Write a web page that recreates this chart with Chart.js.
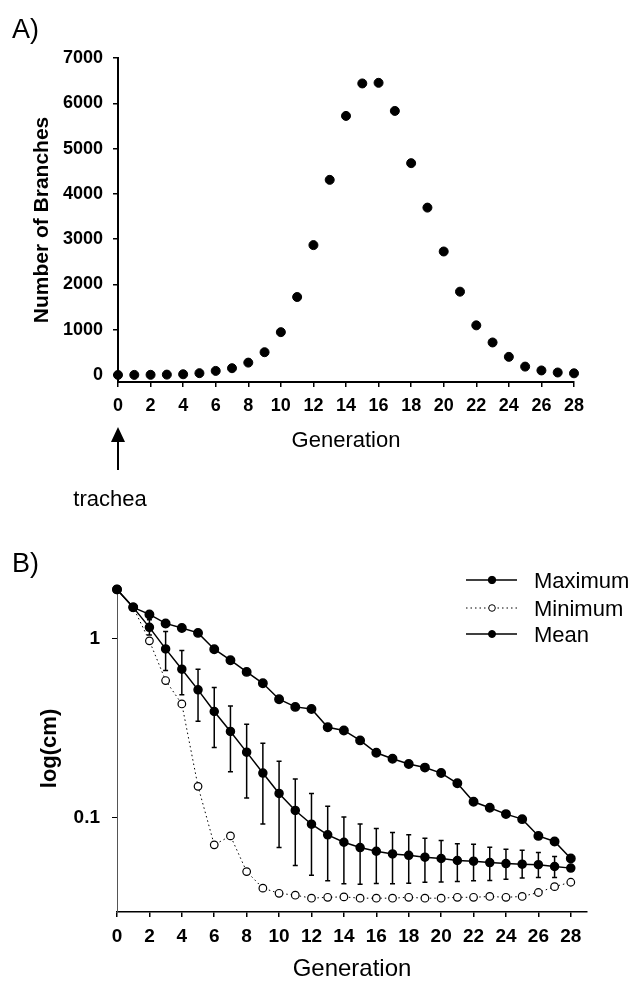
<!DOCTYPE html>
<html lang="en">
<head>
<meta charset="UTF-8">
<title>Airway branches per generation</title>
<style>
    body {
        margin: 0;
        background: #fff;
        font-family: "Liberation Sans", Arial, sans-serif;
    }
    .panel {
        position: absolute;
        left: 0;
        width: 636px;
    }
    #panelA { top: 0; height: 520px; }
    #panelB { top: 520px; height: 464px; }
</style>
</head>
<body>
<div class="panel" id="panelA"><canvas id="chartA"></canvas></div>
<div class="panel" id="panelB"><canvas id="chartB"></canvas></div>

<script src="https://cdn.jsdelivr.net/npm/chart.js@4"></script>
<script>
    // generations 0 (trachea) .. 28
    const generations = [0, 1, 2, 3, 4, 5, 6, 7, 8, 9, 10, 11, 12, 13, 14, 15, 16, 17, 18, 19, 20, 21, 22, 23, 24, 25, 26, 27, 28];
    const xTickValues = [0, 2, 4, 6, 8, 10, 12, 14, 16, 18, 20, 22, 24, 26, 28];

    // panel A
    const branchCounts = [1, 2, 4, 8, 16, 40, 90, 150, 273, 503, 946, 1722, 2868, 4309, 5721, 6438, 6452, 5831, 4678, 3696, 2727, 1840, 1096, 718, 400, 185, 100, 55, 37];
    const yTickValuesA = [0, 1000, 2000, 3000, 4000, 5000, 6000, 7000];

    // panel B (cm)
    const maxLength = [1.89, 1.50, 1.37, 1.22, 1.15, 1.08, 0.876, 0.760, 0.654, 0.565, 0.460, 0.417, 0.406, 0.321, 0.308, 0.271, 0.231, 0.214, 0.200, 0.191, 0.178, 0.156, 0.123, 0.114, 0.105, 0.0984, 0.0793, 0.0738, 0.0593];
    const minLength = [1.89, 1.50, 0.975, 0.585, 0.433, 0.150, 0.0707, 0.0793, 0.0501, 0.0405, 0.0379, 0.0370, 0.0356, 0.0360, 0.0362, 0.0356, 0.0356, 0.0356, 0.0360, 0.0356, 0.0356, 0.0360, 0.0360, 0.0364, 0.0360, 0.0364, 0.0383, 0.0413, 0.0437];
    const meanLength = [1.89, 1.50, 1.16, 0.879, 0.677, 0.519, 0.393, 0.304, 0.233, 0.178, 0.137, 0.110, 0.0922, 0.0804, 0.0731, 0.0683, 0.0651, 0.0629, 0.0618, 0.0603, 0.0593, 0.0578, 0.0573, 0.0563, 0.0556, 0.0551, 0.0548, 0.0535, 0.0524];
    const meanUpper = [null, null, 1.28, 1.10, 0.861, 0.677, 0.535, 0.422, 0.334, 0.261, 0.207, 0.165, 0.137, 0.116, 0.101, 0.0925, 0.0871, 0.0828, 0.0804, 0.0770, 0.0747, 0.0716, 0.0713, 0.0686, 0.0668, 0.0660, 0.0640, 0.0608, null];
    const meanLower = [null, null, 1.05, 0.665, 0.487, 0.347, 0.247, 0.181, 0.129, 0.0925, 0.0683, 0.0542, 0.0478, 0.0445, 0.0428, 0.0426, 0.0430, 0.0428, 0.0431, 0.0437, 0.0439, 0.0441, 0.0445, 0.0447, 0.0454, 0.0462, 0.0464, 0.0464, null];
    const yTickValuesB = [0.1, 1];

    const FONT = '"Liberation Sans", Arial, sans-serif';
    Chart.defaults.font.family = FONT;
    Chart.defaults.color = '#000';

    const toPoints = (ys) => generations.map((g, i) => ({ x: g, y: ys[i] }));
    const fixTicks = (values) => (scale) => { scale.ticks = values.map(v => ({ value: v })); };
    const plainLabel = (v) => String(v);

    // A) label, arrow and "trachea" under panel A
    const panelAExtras = {
        id: 'panelAExtras',
        afterDraw(chart) {
            const ctx = chart.ctx;
            const x0 = chart.scales.x.getPixelForValue(0);
            ctx.save();
            ctx.fillStyle = '#000';
            ctx.strokeStyle = '#000';
            ctx.font = '27px ' + FONT;
            ctx.textBaseline = 'alphabetic';
            ctx.fillText('A)', 12, 38);

            ctx.lineWidth = 2;
            ctx.beginPath();
            ctx.moveTo(x0, 440);
            ctx.lineTo(x0, 470);
            ctx.stroke();
            ctx.beginPath();
            ctx.moveTo(x0, 427);
            ctx.lineTo(x0 - 7, 442);
            ctx.lineTo(x0 + 7, 442);
            ctx.closePath();
            ctx.fill();

            ctx.font = '22px ' + FONT;
            ctx.textAlign = 'center';
            ctx.fillText('trachea', 110, 506);
            ctx.restore();
        }
    };

    // SD bars on the mean series
    const errorBars = {
        id: 'errorBars',
        beforeDatasetsDraw(chart) {
            const ctx = chart.ctx;
            const xs = chart.scales.x, ys = chart.scales.y;
            ctx.save();
            ctx.strokeStyle = '#000';
            ctx.lineWidth = 1.5;
            generations.forEach((g, i) => {
                if (meanUpper[i] == null) return;
                const x = xs.getPixelForValue(g);
                const yu = ys.getPixelForValue(meanUpper[i]);
                const yl = ys.getPixelForValue(meanLower[i]);
                ctx.beginPath();
                ctx.moveTo(x, yu); ctx.lineTo(x, yl);
                ctx.moveTo(x - 2.5, yu); ctx.lineTo(x + 2.5, yu);
                ctx.moveTo(x - 2.5, yl); ctx.lineTo(x + 2.5, yl);
                ctx.stroke();
            });
            ctx.restore();
        }
    };

    // B) label and legend
    const panelBExtras = {
        id: 'panelBExtras',
        afterDraw(chart) {
            const ctx = chart.ctx;
            ctx.save();
            ctx.fillStyle = '#000';
            ctx.font = '27px ' + FONT;
            ctx.textBaseline = 'alphabetic';
            ctx.fillText('B)', 12, 52);

            const rows = [60, 88, 114];
            chart.data.datasets.forEach((ds, i) => {
                const y = rows[i];
                ctx.strokeStyle = '#000';
                ctx.lineWidth = ds.borderWidth;
                ctx.setLineDash(ds.borderDash || []);
                ctx.beginPath();
                ctx.moveTo(466, y); ctx.lineTo(517, y);
                ctx.stroke();
                ctx.setLineDash([]);
                ctx.beginPath();
                ctx.arc(492, y, ds.pointRadius - 0.5, 0, Math.PI * 2);
                ctx.fillStyle = ds.pointBackgroundColor;
                ctx.fill();
                ctx.lineWidth = 1;
                ctx.stroke();
                ctx.fillStyle = '#000';
                ctx.font = '22px ' + FONT;
                ctx.textBaseline = 'middle';
                ctx.fillText(ds.label, 534, y + 2);
            });
            ctx.restore();
        }
    };

    const tickGrid = { display: true, drawOnChartArea: false, drawTicks: true, tickLength: 5, color: '#000', lineWidth: 1.5 };

    new Chart(document.getElementById('chartA'), {
        type: 'scatter',
        data: {
            datasets: [{
                label: 'Number of Branches',
                data: toPoints(branchCounts),
                showLine: false,
                pointRadius: 4.5,
                pointBackgroundColor: '#000',
                pointBorderColor: '#000',
                clip: false
            }]
        },
        options: {
            responsive: true,
            maintainAspectRatio: false,
            animation: false,
            events: [],
            layout: { padding: { left: 30, right: 62, top: 58, bottom: 66 } },
            plugins: { legend: { display: false }, tooltip: { enabled: false } },
            scales: {
                x: {
                    type: 'linear',
                    min: 0,
                    max: 28,
                    afterBuildTicks: fixTicks(xTickValues),
                    afterFit: (s) => { s.height = 72; },
                    border: { display: true, color: '#000', width: 2 },
                    grid: tickGrid,
                    ticks: { padding: 8, maxRotation: 0, autoSkip: false, font: { size: 18, weight: 'bold' }, callback: plainLabel },
                    title: { display: true, text: 'Generation', padding: 0, font: { size: 22 } }
                },
                y: {
                    type: 'linear',
                    min: -155,
                    max: 7000,
                    afterBuildTicks: fixTicks(yTickValuesA),
                    afterFit: (s) => { s.width = 88; },
                    border: { display: true, color: '#000', width: 2 },
                    grid: tickGrid,
                    ticks: { padding: 10, font: { size: 18, weight: 'bold' }, callback: plainLabel },
                    title: { display: true, text: 'Number of Branches', padding: 0, font: { size: 21, weight: 'bold' } }
                }
            }
        },
        plugins: [panelAExtras]
    });

    new Chart(document.getElementById('chartB'), {
        type: 'line',
        data: {
            datasets: [
                {
                    label: 'Maximum',
                    data: toPoints(maxLength),
                    borderColor: '#000',
                    borderWidth: 1.5,
                    pointRadius: 4.2,
                    pointBackgroundColor: '#000',
                    pointBorderColor: '#000',
                    tension: 0,
                    clip: false
                },
                {
                    label: 'Minimum',
                    data: toPoints(minLength),
                    borderColor: '#000',
                    borderWidth: 1,
                    borderDash: [1.5, 3],
                    pointRadius: 3.8,
                    pointBackgroundColor: '#fff',
                    pointBorderColor: '#000',
                    pointBorderWidth: 1.2,
                    tension: 0,
                    clip: false
                },
                {
                    label: 'Mean',
                    data: toPoints(meanLength),
                    borderColor: '#000',
                    borderWidth: 1.5,
                    pointRadius: 4,
                    pointBackgroundColor: '#000',
                    pointBorderColor: '#000',
                    tension: 0,
                    clip: false
                }
            ]
        },
        options: {
            responsive: true,
            maintainAspectRatio: false,
            animation: false,
            events: [],
            layout: { padding: { left: 37, right: 49, top: 65, bottom: 0 } },
            plugins: { legend: { display: false }, tooltip: { enabled: false } },
            scales: {
                x: {
                    type: 'linear',
                    min: 0,
                    max: 29,
                    afterBuildTicks: fixTicks(xTickValues),
                    afterFit: (s) => { s.height = 72; },
                    border: { display: true, color: '#000', width: 1.5 },
                    grid: tickGrid,
                    ticks: { padding: 8, maxRotation: 0, autoSkip: false, font: { size: 19, weight: 'bold' }, callback: plainLabel },
                    title: { display: true, text: 'Generation', padding: 0, font: { size: 24 } }
                },
                y: {
                    type: 'logarithmic',
                    min: 0.0298,
                    max: 2,
                    afterBuildTicks: fixTicks(yTickValuesB),
                    afterFit: (s) => { s.width = 80; },
                    border: { display: true, color: '#555', width: 1 },
                    grid: { ...tickGrid, lineWidth: 1 },
                    ticks: { padding: 12, font: { size: 19, weight: 'bold' }, callback: plainLabel },
                    title: { display: true, text: 'log(cm)', padding: 0, font: { size: 22, weight: 'bold' } }
                }
            }
        },
        plugins: [errorBars, panelBExtras]
    });
</script>
</body>
</html>
